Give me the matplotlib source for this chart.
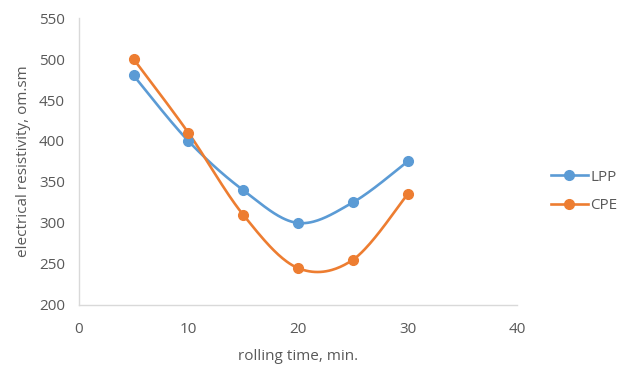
import numpy as np
import matplotlib
matplotlib.use("Agg")
from matplotlib import pyplot as plt

time_min = [5, 10, 15, 20, 25, 30]
lpp = [480, 400, 340, 300, 325, 375]
cpe = [500, 410, 310, 245, 255, 335]
x_ticks = [0, 10, 20, 30, 40]
y_ticks = [200, 250, 300, 350, 400, 450, 500, 550]

BLUE = "#5B9BD5"
ORANGE = "#ED7D31"
GREY = "#595959"

plt.rcParams['font.family'] = ['Open Sans', 'DejaVu Sans']


def smooth(xs, ys, n=40):
    """Bezier smoothing like a spreadsheet 'smoothed line' chart."""
    p = np.column_stack([xs, ys]).astype(float)
    p = np.vstack([p[0], p, p[-1]])
    out = []
    for i in range(1, len(p) - 2):
        p0, p1, p2, p3 = p[i - 1], p[i], p[i + 1], p[i + 2]
        c1 = p1 + (p2 - p0) / 6.0
        c2 = p2 - (p3 - p1) / 6.0
        t = np.linspace(0, 1, n)[:, None]
        seg = ((1 - t) ** 3) * p1 + 3 * ((1 - t) ** 2) * t * c1 \
            + 3 * (1 - t) * t ** 2 * c2 + t ** 3 * p2
        out.append(seg)
    curve = np.vstack(out)
    return curve[:, 0], curve[:, 1]


fig = plt.figure(figsize=(6.3, 3.76), dpi=100)
ax = fig.add_axes([0.125, 0.189, 0.696, 0.763])

for ys, color, label in [(lpp, BLUE, "LPP"), (cpe, ORANGE, "CPE")]:
    sx, sy = smooth(time_min, ys)
    ax.plot(sx, sy, color=color, lw=1.9, zorder=2)
    ax.plot(time_min, ys, 'o', color=color, ms=7, zorder=3)
    ax.plot([], [], color=color, lw=1.9, marker='o', ms=7, label=label)

ax.set_xlim(0, 40)
ax.set_ylim(200, 550)
ax.set_xticks(x_ticks)
ax.set_yticks(y_ticks)
ax.tick_params(length=0, labelsize=11, colors=GREY)
ax.tick_params(axis='x', pad=12)
ax.tick_params(axis='y', pad=10)
for side in ("top", "right"):
    ax.spines[side].set_visible(False)
for side in ("left", "bottom"):
    ax.spines[side].set_color("#D9D9D9")
    ax.spines[side].set_linewidth(1)

ax.set_xlabel("rolling time, min.", fontsize=11, color=GREY, labelpad=9)
ax.set_ylabel("electrical resistivity, om.sm", fontsize=11, color=GREY, labelpad=6)

ax.legend(loc="center left", bbox_to_anchor=(1.046, 0.395), frameon=False,
          fontsize=11, labelcolor=GREY, handlelength=2.4, handletextpad=0.15,
          labelspacing=0.9)

fig.savefig("out.png", dpi=100)
